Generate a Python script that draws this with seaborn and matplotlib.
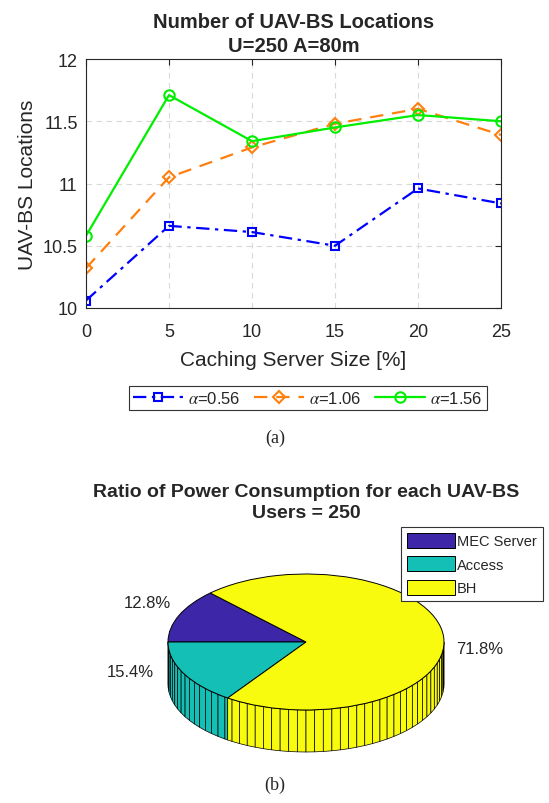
import numpy as np
import pandas as pd
import seaborn as sns
import matplotlib.pyplot as plt
from matplotlib.ticker import FormatStrFormatter

# --- data -------------------------------------------------------------
cache_size = [0, 5, 10, 15, 20, 25]
alpha_labels = [r'$\alpha$=0.56', r'$\alpha$=1.06', r'$\alpha$=1.56']
loc_a056 = [10.06, 10.66, 10.61, 10.50, 10.96, 10.84]
loc_a106 = [10.32, 11.05, 11.29, 11.48, 11.60, 11.39]
loc_a156 = [10.58, 11.71, 11.34, 11.45, 11.55, 11.50]

power_parts = ['MEC Server', 'Access', 'BH']
power_share = [12.8, 15.4, 71.8]

# --- style ------------------------------------------------------------
sns.set_style('white')
plt.rcParams['font.family'] = ['Liberation Sans', 'DejaVu Sans']
plt.rcParams['mathtext.fontset'] = 'stix'

W, H = 549, 804
fig = plt.figure(figsize=(W / 100, H / 100), dpi=100)


def px_axes(left, top, right, bottom):
    return fig.add_axes([left / W, 1 - bottom / H, (right - left) / W, (bottom - top) / H])


# --- (a) line chart ---------------------------------------------------
ax = px_axes(86, 60, 501, 309)
series = [loc_a056, loc_a106, loc_a156]
colors = ['#0000ff', '#ff7f0e', '#00ee00']
styles = [(0, (6, 2.5, 1.5, 2.5)), (0, (6, 4)), '-']
markers = ['s', 'D', 'o']
msizes = [6, 6, 7.5]
for vals, lab, c, ls, m, ms in zip(series, alpha_labels, colors, styles, markers, msizes):
    df = pd.DataFrame({'x': cache_size, 'y': vals})
    sns.lineplot(data=df, x='x', y='y', ax=ax, color=c, linestyle=ls, marker=m,
                 markersize=ms, mfc='none', mec=c, mew=1.5, lw=1.6, label=lab)

ax.set_xlim(0, 25)
ax.set_ylim(10, 12)
ax.set_xticks(cache_size)
ax.set_yticks([10, 10.5, 11, 11.5, 12])
ax.yaxis.set_major_formatter(FormatStrFormatter('%g'))
ax.tick_params(direction='in', top=True, right=True, length=4, labelsize=13)
ax.tick_params(axis='x', pad=11)
ax.tick_params(axis='y', pad=6)
ax.grid(True, ls=(0, (5, 4)), color='0.85', lw=0.8)
for s in ax.spines.values():
    s.set_color('0.15')
    s.set_linewidth(0.8)
ax.set_xlabel('Caching Server Size [%]', fontsize=15, labelpad=7)
ax.set_ylabel('UAV-BS Locations', fontsize=15, labelpad=4)
ax.set_title('Number of UAV-BS Locations\nU=250 A=80m', fontsize=14.5,
             fontweight='bold', pad=6, linespacing=1.3)
h_, l_ = ax.get_legend_handles_labels()
ax.get_legend().remove()
leg = fig.legend(h_, l_, loc='center', bbox_to_anchor=(308 / W, 1 - 399 / H), ncol=3,
                 fontsize=12, frameon=True, fancybox=False, edgecolor='0.2',
                 framealpha=1, handlelength=3.0, columnspacing=0.8,
                 handletextpad=0.3, borderpad=0.25)
leg.get_frame().set_linewidth(0.8)

fig.text(275 / W, 1 - 438 / H, '(a)', ha='center', va='center',
         fontsize=13, family='Liberation Serif')

# --- (b) 3D-looking pie ----------------------------------------------
cx, cy, rx, ry, depth = 306, 643, 138, 68, 42
pl, pr, pt, pb = 150, 462, 560, 772
pax = px_axes(pl, pt, pr, pb)
fracs = np.array(power_share) / sum(power_share)
pie_colors = ['#3e26a8', '#14bfb5', '#f9fb0e']
wedges, _ = pax.pie(power_share, colors=pie_colors, startangle=180 - 360 * fracs[0],
                    counterclock=True,
                    wedgeprops=dict(edgecolor='black', linewidth=0.7))
pax.set_aspect('auto')
pax.set_xlim(-(cx - pl) / rx, (pr - cx) / rx)
pax.set_ylim(-(pb - cy) / ry, (cy - pt) / ry)
pax.axis('off')

hgt = depth / ry
step = 3.6
for wdg, col in zip(wedges, pie_colors):
    t1, t2 = wdg.theta1, wdg.theta2
    for lo, hi in [(180, 360), (540, 720)]:
        a, b = max(t1, lo), min(t2, hi)
        if b - a <= 0.01:
            continue
        ts = np.concatenate([[a], np.arange(np.ceil(a / step) * step, b, step), [b]])
        ts = np.unique(ts)
        for u, v in zip(ts[:-1], ts[1:]):
            uu, vv = np.radians([u, v])
            xs = [np.cos(uu), np.cos(vv), np.cos(vv), np.cos(uu)]
            ys = [np.sin(uu), np.sin(vv), np.sin(vv) - hgt, np.sin(uu) - hgt]
            pax.fill(xs, ys, facecolor=col, edgecolor='black', linewidth=0.5, zorder=0)

pct_pos = [(147, 604), (130, 673), (480, 650)]
for val, (px, py) in zip(power_share, pct_pos):
    pax.text((px - cx) / rx, (cy - py) / ry, f'{val:.1f}%', ha='center', va='center',
             fontsize=12, color='0.15')

pax.set_title('Ratio of Power Consumption for each UAV-BS\nUsers = 250', fontsize=14,
              fontweight='bold', pad=30, linespacing=1.3)

pleg = fig.legend(wedges, power_parts, loc='upper left',
                  bbox_to_anchor=(401 / W, 1 - 528 / H), fontsize=10.5, frameon=True,
                  fancybox=False, edgecolor='0.2', framealpha=1, handlelength=3.3,
                  handleheight=1.2, labelspacing=0.55, handletextpad=0.15,
                  borderpad=0.4, borderaxespad=0)
pleg.get_frame().set_linewidth(0.8)

fig.text(275 / W, 1 - 785 / H, '(b)', ha='center', va='center',
         fontsize=13, family='Liberation Serif')

fig.savefig('out.png', dpi=100, facecolor='white')
